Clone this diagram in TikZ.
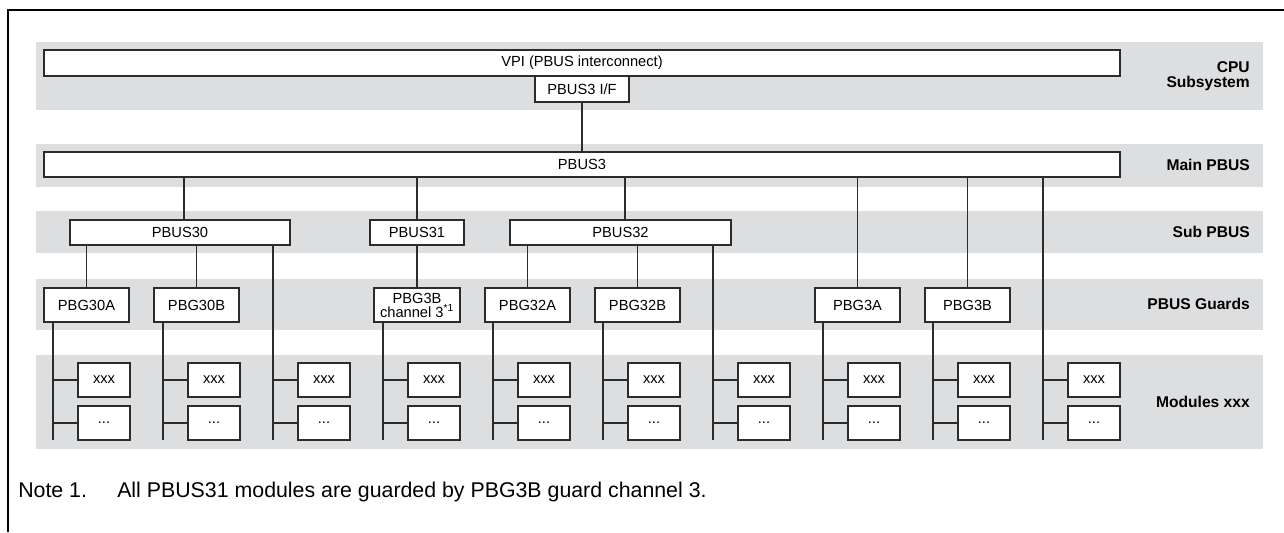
\documentclass[tikz,border=0pt]{standalone}
\usepackage{fontspec}
\setmainfont{Liberation Sans}
\definecolor{band}{HTML}{DDDEE0}
\definecolor{ln}{HTML}{2B2B2B}
\begin{document}
\begin{tikzpicture}[x=0.75pt,y=-0.75pt,
  bx/.style={draw=ln, line width=1.1pt, fill=white, inner sep=0pt,
    font=\fontsize{11}{10.5}\selectfont, align=center},
  wire/.style={draw=ln, line width=0.9pt},
  lbl/.style={anchor=east, align=right, inner sep=0pt,
    font=\bfseries\fontsize{11.7}{11.3}\selectfont},
  note/.style={anchor=base west, inner sep=0pt, font=\fontsize{16}{19}\selectfont}]
\useasboundingbox (0,0) rectangle (1284,532);
% bands
\fill[band] (36,42) rectangle (1263,110);
\fill[band] (36,144) rectangle (1263,187);
\fill[band] (36,211) rectangle (1263,253);
\fill[band] (36,279) rectangle (1263,330);
\fill[band] (36,355) rectangle (1263,449);
% frame
\draw[line width=1.6pt, black] (1284,10) -- (8,10) -- (8,532);
% CPU subsystem
\node[bx, minimum width=1076*0.75pt, minimum height=26*0.75pt] (vpi) at (582,63) {VPI (PBUS interconnect)};
\node[bx, minimum width=94*0.75pt, minimum height=26*0.75pt] (pif) at (582,89) {PBUS3 I/F};
% main PBUS
\node[bx, minimum width=1076*0.75pt, minimum height=25*0.75pt] (pbus3) at (582,164.5) {PBUS3};
% sub PBUS
\node[bx, minimum width=220*0.75pt, minimum height=25*0.75pt] (pbus30) at (180,232.5) {PBUS30};
\node[bx, minimum width=94*0.75pt, minimum height=25*0.75pt] (pbus31) at (417,232.5) {PBUS31};
\node[bx, minimum width=221*0.75pt, minimum height=25*0.75pt] (pbus32) at (620.5,232.5) {PBUS32};
% guards
\tikzset{gd/.style={bx, minimum width=85*0.75pt, minimum height=34*0.75pt}}
\node[gd] (pbg30a) at (86.5,305) {PBG30A};
\node[gd] (pbg30b) at (196.5,305) {PBG30B};
\node[gd, minimum width=86*0.75pt] (pbg3bc) at (417,305) {PBG3B\\channel 3\textsuperscript{*1}};
\node[gd] (pbg32a) at (527.5,305) {PBG32A};
\node[gd] (pbg32b) at (637.5,305) {PBG32B};
\node[gd] (pbg3a) at (857.5,305) {PBG3A};
\node[gd] (pbg3b) at (967.5,305) {PBG3B};
% connectors
\draw[wire] (pif.south) -- (pif.south |- pbus3.north);
\draw[wire] ([xshift=3pt]pbus30.north) -- ([xshift=3pt]pbus30.north |- pbus3.south);
\draw[wire] (pbus31.north) -- (pbus31.north |- pbus3.south);
\draw[wire] ([xshift=3.4pt]pbus32.north) -- ([xshift=3.4pt]pbus32.north |- pbus3.south);
\draw[wire] (pbg3a.north) -- (pbg3a.north |- pbus3.south);
\draw[wire] (pbg3b.north) -- (pbg3b.north |- pbus3.south);
\draw[wire] (pbg30a.north) -- (pbg30a.north |- pbus30.south);
\draw[wire] (pbg30b.north) -- (pbg30b.north |- pbus30.south);
\draw[wire] (pbg3bc.north) -- (pbus31.south);
\draw[wire] (pbg32a.north) -- (pbg32a.north |- pbus32.south);
\draw[wire] (pbg32b.north) -- (pbg32b.north |- pbus32.south);
% modules
\foreach \k/\src in {0/pbg30a,1/pbg30b,2/pbus30,3/pbg3bc,4/pbg32a,5/pbg32b,6/pbus32,7/pbg3a,8/pbg3b,9/pbus3}{
  \coordinate (r\k) at ({53+110*\k},440);
  \node[bx, minimum width=52*0.75pt, minimum height=34*0.75pt] (mx\k) at ({104+110*\k},380) {xxx};
  \node[bx, minimum width=52*0.75pt, minimum height=34*0.75pt] (md\k) at ({104+110*\k},423) {...};
  \draw[wire] (\src.south -| r\k) -- (r\k);
  \draw[wire] (r\k |- mx\k.west) -- (mx\k.west);
  \draw[wire] (r\k |- md\k.west) -- (md\k.west);
}
% row labels
\node[lbl] (lcpu) at (1250,76) {CPU\\Subsystem};
\node[lbl] (lmain) at (1250,165) {Main PBUS};
\node[lbl] (lsub) at (1250,232) {Sub PBUS};
\node[lbl] (lguard) at (1250,304) {PBUS Guards};
\node[lbl] (lmod) at (1250,402) {Modules xxx};
% note
\node[note] (n1) at (18,497) {Note 1.};
\node[note] (n2) at (117,497) {All PBUS31 modules are guarded by PBG3B guard channel 3.};
\end{tikzpicture}
\end{document}
